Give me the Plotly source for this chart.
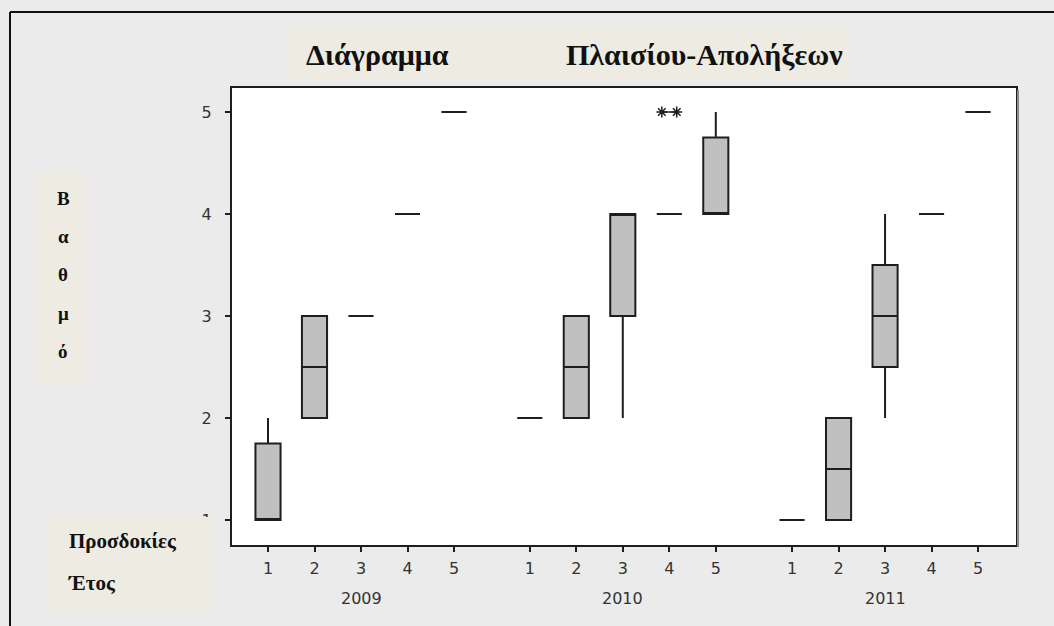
import plotly.graph_objects as go

# Expectation levels within each year
years = ["2009", "2010", "2011"]
levels = [1, 2, 3, 4, 5]

# Five-number summaries per level (lower whisker, Q1, median, Q3, upper whisker)
low_2009 = [1, 2, 3, 4, 5]
q1_2009 = [1, 2, 3, 4, 5]
med_2009 = [1, 2.5, 3, 4, 5]
q3_2009 = [1.75, 3, 3, 4, 5]
high_2009 = [2, 3, 3, 4, 5]

low_2010 = [2, 2, 2, 4, 4]
q1_2010 = [2, 2, 3, 4, 4]
med_2010 = [2, 2.5, 4, 4, 4]
q3_2010 = [2, 3, 4, 4, 4.75]
high_2010 = [2, 3, 4, 4, 5]

low_2011 = [1, 1, 2, 4, 5]
q1_2011 = [1, 1, 2.5, 4, 5]
med_2011 = [1, 1.5, 3, 4, 5]
q3_2011 = [1, 2, 3.5, 4, 5]
high_2011 = [1, 2, 4, 4, 5]

# Outlying scores (2010, level 4)
outlier_level_2010 = [4, 4]
outlier_values_2010 = [5, 5]

stats = {
    "2009": (low_2009, q1_2009, med_2009, q3_2009, high_2009),
    "2010": (low_2010, q1_2010, med_2010, q3_2010, high_2010),
    "2011": (low_2011, q1_2011, med_2011, q3_2011, high_2011),
}

# Horizontal placement of each year block on the x axis
group_shift = {"2009": 0.0, "2010": 5.63, "2011": 11.27}

W, H = 1054, 626
PL, PR, PT, PB = 232, 1016, 88, 545  # plot area in pixels

BOX_FILL = "#c0c0c0"
INK = "#1e1e1e"
BEIGE = "#edebe2"
BG = "#ebebeb"

fig = go.Figure()

tickvals, ticktext = [], []
for yr in years:
    lo, q1, md, q3, hi = stats[yr]
    xs = [lv + group_shift[yr] for lv in levels]
    tickvals += xs
    ticktext += [str(lv) for lv in levels]
    fig.add_trace(go.Box(
        x=xs, lowerfence=lo, q1=q1, median=md, q3=q3, upperfence=hi,
        width=0.54, whiskerwidth=0,
        fillcolor=BOX_FILL,
        line=dict(color=INK, width=2),
        boxpoints=False, hoverinfo="skip", showlegend=False,
    ))

# Asterisk markers for the outliers, nudged apart so both are visible
nudge = [-0.16, 0.16]
fig.add_trace(go.Scatter(
    x=[lv + group_shift["2010"] + d for lv, d in zip(outlier_level_2010, nudge)],
    y=outlier_values_2010,
    mode="lines+markers",
    line=dict(color=INK, width=1.5),
    marker=dict(symbol="asterisk-open", size=9, line=dict(color=INK, width=1.5)),
    hoverinfo="skip", showlegend=False,
))

x_range = [1 + (PL - 268) / 46.5, 1 + (PR - 268) / 46.5]
y_range = [1 - (PB - 520) / 102.0, 5 + (112 - PT) / 102.0]

axis_font = dict(family="DejaVu Sans", size=16, color="#333333")

fig.update_xaxes(
    range=x_range, tickvals=tickvals, ticktext=ticktext,
    showline=True, linecolor=INK, linewidth=2, mirror=True,
    ticks="outside", ticklen=5, tickwidth=2, tickcolor=INK,
    showgrid=False, zeroline=False, tickfont=axis_font,
    ticklabelstandoff=3,
)
fig.update_yaxes(
    range=y_range, tickvals=[1, 2, 3, 4, 5],
    showline=True, linecolor=INK, linewidth=2, mirror=True,
    ticks="outside", ticklen=5, tickwidth=2, tickcolor=INK,
    showgrid=False, zeroline=False, tickfont=axis_font,
    ticklabelstandoff=10,
)


def px_x(p):
    return (p - PL) / (PR - PL)


def px_y(p):
    return (PB - p) / (PB - PT)


shapes = []
# Outer frame (top and left edges)
shapes.append(dict(type="line", xref="paper", yref="paper",
                   x0=px_x(10), x1=px_x(W), y0=px_y(12), y1=px_y(12),
                   line=dict(color="#111111", width=2)))
shapes.append(dict(type="line", xref="paper", yref="paper",
                   x0=px_x(10), x1=px_x(10), y0=px_y(12), y1=px_y(H),
                   line=dict(color="#111111", width=2)))
# Soft shadow along the right side of the plot frame
shapes.append(dict(type="line", xref="paper", yref="paper",
                   x0=px_x(PR + 2), x1=px_x(PR + 2), y0=px_y(PT + 2), y1=px_y(PB + 2),
                   line=dict(color="#8a8a8a", width=2)))
# Label panels
for (x0, x1, y0, y1) in [(285, 850, 27, 80), (38, 88, 172, 381), (48, 213, 517, 613)]:
    shapes.append(dict(type="rect", xref="paper", yref="paper", layer="above",
                       x0=px_x(x0), x1=px_x(x1), y0=px_y(y1), y1=px_y(y0),
                       fillcolor=BEIGE, line=dict(width=0)))

serif = "Liberation Serif, Times New Roman, serif"
annotations = []
# Title words
annotations.append(dict(text="<b>Διάγραμμα</b>", xref="paper", yref="paper",
                        x=px_x(304), y=px_y(55), xanchor="left", yanchor="middle",
                        showarrow=False, font=dict(family=serif, size=30, color="#111111")))
annotations.append(dict(text="<b>Πλαισίου-Απολήξεων</b>", xref="paper", yref="paper",
                        x=px_x(564), y=px_y(55), xanchor="left", yanchor="middle",
                        showarrow=False, font=dict(family=serif, size=30, color="#111111")))
# Vertical y-axis label, one letter per line
for ch, yy in zip("Βαθμό", [198, 236, 274, 313, 352]):
    annotations.append(dict(text=f"<b>{ch}</b>", xref="paper", yref="paper",
                            x=px_x(63), y=px_y(yy), xanchor="center", yanchor="middle",
                            showarrow=False, font=dict(family=serif, size=19, color="#111111")))
# Axis category captions
annotations.append(dict(text="<b>Προσδοκίες</b>", xref="paper", yref="paper",
                        x=px_x(67), y=px_y(541), xanchor="left", yanchor="middle",
                        showarrow=False, font=dict(family=serif, size=21, color="#111111")))
annotations.append(dict(text="<b>Έτος</b>", xref="paper", yref="paper",
                        x=px_x(66), y=px_y(583), xanchor="left", yanchor="middle",
                        showarrow=False, font=dict(family=serif, size=21, color="#111111")))
# Year labels under each block
for yr in years:
    annotations.append(dict(text=yr, xref="x", yref="paper",
                            x=3 + group_shift[yr], y=px_y(598), xanchor="center", yanchor="middle",
                            showarrow=False, font=dict(family="DejaVu Sans", size=16, color="#333333")))

fig.update_layout(
    width=W, height=H,
    margin=dict(l=PL, r=W - PR, t=PT, b=H - PB),
    paper_bgcolor=BG, plot_bgcolor="white",
    shapes=shapes, annotations=annotations,
    showlegend=False,
)

fig.write_html("out.html")
